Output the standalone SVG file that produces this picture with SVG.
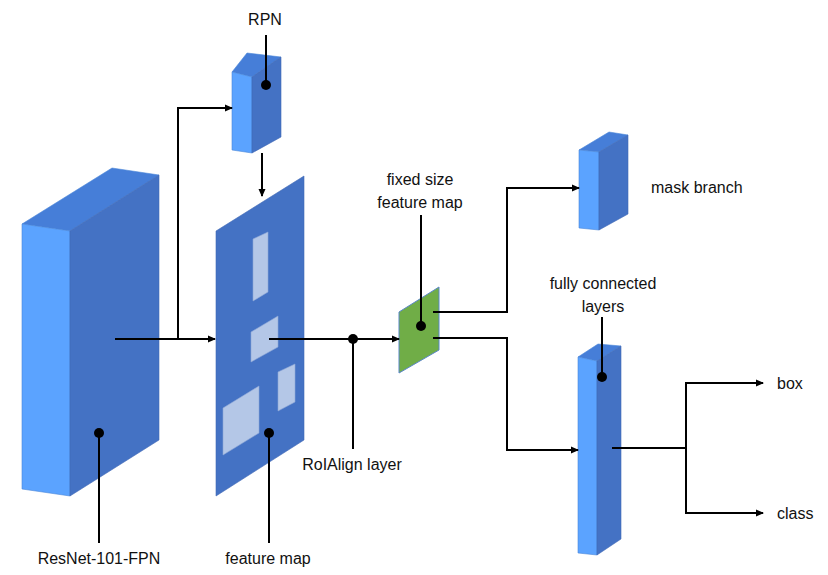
<svg xmlns="http://www.w3.org/2000/svg" width="828" height="575" viewBox="0 0 828 575">
<defs>
<marker id="ah" markerWidth="8" markerHeight="8" refX="7" refY="4" orient="auto" markerUnits="userSpaceOnUse">
<path d="M0,0.5 L8,4 L0,7.5 Z" fill="#000"/>
</marker>
<style>
.front{fill:#5BA3FF;stroke:#4A86D8;stroke-width:0.6}
.top{fill:#467ED8;stroke:#4A86D8;stroke-width:0.6}
.side{fill:#4472C4;stroke:#3F68B5;stroke-width:0.6}
.plane{fill:#4472C4;stroke:#3F68B5;stroke-width:0.6}
.roi{fill:#B4C7E7;stroke:#8FA8D6;stroke-width:0.6}
.green{fill:#70AD47;stroke:#5B87C8;stroke-width:1}
.ln{fill:none;stroke:#000;stroke-width:2}
.arr{fill:none;stroke:#000;stroke-width:2;marker-end:url(#ah)}
.dot{fill:#000}
text{font-family:"Liberation Sans",Arial,sans-serif;font-size:16px;fill:#111}
</style>
</defs>
<rect width="828" height="575" fill="#fff"/>

<g id="resnet">
<polygon class="top" points="22,224 70,231 159,175 112,168"/>
<polygon class="front" points="22,224 70,231 70,496 22,489"/>
<polygon class="side" points="70,231 159,175 159,440 70,496"/>
</g>

<g id="rpn">
<polygon class="top" points="232,72 252,77 281,57 247,53"/>
<polygon class="front" points="232,72 252,77 252,153 232,150"/>
<polygon class="side" points="252,77 281,57 281,137 252,153"/>
</g>

<g id="featuremap">
<polygon class="plane" points="216,231 304,176 304,440 216,496"/>
<polygon class="roi" points="253,239 268,232 268,292 253,301"/>
<polygon class="roi" points="251,332 278,316 278,347 251,362"/>
<polygon class="roi" points="278,372 295,364 295,402 278,411"/>
<polygon class="roi" points="223,408 259,386 259,433 223,455"/>
</g>

<g id="fixedmap">
<polygon class="green" points="399,312 439,287 439,350 399,373"/>
</g>

<g id="mask">
<polygon class="top" points="579,150 599,152 628,135 609,132"/>
<polygon class="front" points="579,150 599,152 599,230 579,228"/>
<polygon class="side" points="599,152 628,135 628,214 599,230"/>
</g>

<g id="fc">
<polygon class="top" points="578,357 597,361 621,346 598,344"/>
<polygon class="front" points="578,357 597,361 597,555 578,553"/>
<polygon class="side" points="597,361 621,346 621,539 597,555"/>
</g>

<g id="connectors">
<path class="arr" d="M115,339 H215"/>
<path class="arr" d="M178,339 V108 H232"/>
<path class="arr" d="M262,153 V196"/>
<path class="arr" d="M269,339 H399"/>
<path class="arr" d="M433,312 H507 V188 H579"/>
<path class="arr" d="M433,338 H507 V450 H578"/>
<path class="ln" d="M612,448 H686"/>
<path class="ln" d="M686,383 V513"/>
<path class="arr" d="M685,383 H763"/>
<path class="arr" d="M685,513 H763"/>
<path class="ln" d="M266,35 V85"/>
<path class="ln" d="M99,433 V543"/>
<path class="ln" d="M269,433 V543"/>
<path class="ln" d="M353,339 V449"/>
<path class="ln" d="M421,215 V326"/>
<path class="ln" d="M602,317 V377"/>
<circle class="dot" cx="266" cy="85" r="5"/>
<circle class="dot" cx="99" cy="433" r="5"/>
<circle class="dot" cx="269" cy="433" r="5"/>
<circle class="dot" cx="353" cy="339" r="5"/>
<circle class="dot" cx="421" cy="326" r="5"/>
<circle class="dot" cx="602" cy="377" r="5"/>
</g>

<g id="labels">
<text x="265" y="25" text-anchor="middle">RPN</text>
<text x="99" y="564" text-anchor="middle">ResNet-101-FPN</text>
<text x="268" y="564" text-anchor="middle">feature map</text>
<text x="352" y="470" text-anchor="middle">RoIAlign layer</text>
<text x="420" y="185" text-anchor="middle">fixed size</text>
<text x="420" y="208" text-anchor="middle">feature map</text>
<text x="651" y="193">mask branch</text>
<text x="603" y="289" text-anchor="middle">fully connected</text>
<text x="603" y="312" text-anchor="middle">layers</text>
<text x="777" y="389">box</text>
<text x="777" y="519">class</text>
</g>
</svg>
